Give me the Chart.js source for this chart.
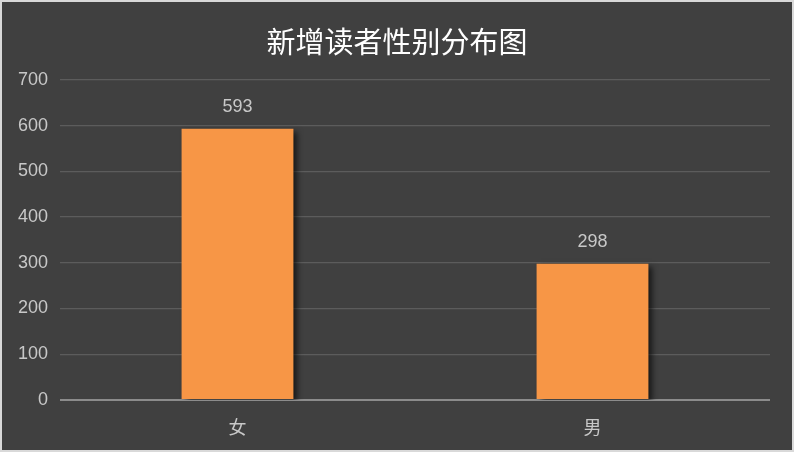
<!DOCTYPE html>
<html>
<head>
<meta charset="utf-8">
<script src="https://cdn.jsdelivr.net/npm/chart.js@4/dist/chart.umd.min.js"></script>
<style>
  html, body { margin: 0; padding: 0; background: #ffffff; }
  #box {
    width: 790px; height: 448px;
    border: 2px solid #d9d9d9;
    background: #404040;
  }
  canvas { display: block; }
</style>
</head>
<body>
<div id="box"><canvas id="genderChart" width="790" height="448"></canvas></div>
<script>
// Data
const categories = ['女', '男'];
const readerCounts = [593, 298];
const yTicks = [0, 100, 200, 300, 400, 500, 600, 700];

const fontFamily = '"Liberation Sans", "Noto Sans CJK SC", sans-serif';

// Shadow behind bars
const barShadow = {
    id: 'barShadow',
    beforeDatasetsDraw(chart) {
        const ctx = chart.ctx;
        ctx.save();
        ctx.shadowColor = 'rgba(0, 0, 0, 0.65)';
        ctx.shadowBlur = 6;
        ctx.shadowOffsetX = 4;
        ctx.shadowOffsetY = 3;
    },
    afterDatasetsDraw(chart) {
        chart.ctx.restore();
    }
};

// Value labels above bars
const valueLabels = {
    id: 'valueLabels',
    afterDatasetsDraw(chart) {
        const ctx = chart.ctx;
        const meta = chart.getDatasetMeta(0);
        ctx.save();
        ctx.fillStyle = '#c8c8c8';
        ctx.font = '18px ' + fontFamily;
        ctx.textAlign = 'center';
        ctx.textBaseline = 'middle';
        meta.data.forEach((bar, i) => {
            ctx.fillText(String(readerCounts[i]), bar.x, bar.y - 22);
        });
        ctx.restore();
    }
};

const ctx = document.getElementById('genderChart').getContext('2d');

const genderChart = new Chart(ctx, {
    type: 'bar',
    data: {
        labels: categories,
        datasets: [{
            data: readerCounts,
            backgroundColor: '#f79646',
            borderWidth: 0,
            barPercentage: 0.63,
            categoryPercentage: 0.5
        }]
    },
    options: {
        responsive: false,
        animation: false,
        plugins: {
            legend: { display: false },
            tooltip: { enabled: false },
            title: {
                display: true,
                text: '新增读者性别分布图',
                color: '#ffffff',
                font: { family: fontFamily, size: 29, weight: 'normal', lineHeight: 1.2 },
                padding: { top: 26, bottom: 17 }
            }
        },
        scales: {
            x: {
                grid: { display: false },
                border: { display: false },
                ticks: {
                    color: '#c8c8c8',
                    font: { family: fontFamily, size: 18 },
                    padding: 10
                },
                afterFit(scale) { scale.height = 50; }
            },
            y: {
                min: 0,
                max: 700,
                afterBuildTicks(scale) {
                    scale.ticks = yTicks.map(v => ({ value: v }));
                },
                grid: {
                    drawTicks: false,
                    color: c => c.index === 0 ? '#8c8c8c' : '#5c5c5c',
                    lineWidth: c => c.index === 0 ? 2 : 1.3
                },
                border: { display: false },
                ticks: {
                    color: '#c8c8c8',
                    font: { family: fontFamily, size: 18 },
                    padding: 12
                },
                afterFit(scale) { scale.width = 58; }
            },
            // empty right margin so the title stays centred on the whole canvas
            yRight: {
                position: 'right',
                display: true,
                grid: { display: false },
                border: { display: false },
                ticks: { display: false },
                afterFit(scale) { scale.width = 22; }
            }
        }
    },
    plugins: [barShadow, valueLabels]
});
</script>
</body>
</html>
